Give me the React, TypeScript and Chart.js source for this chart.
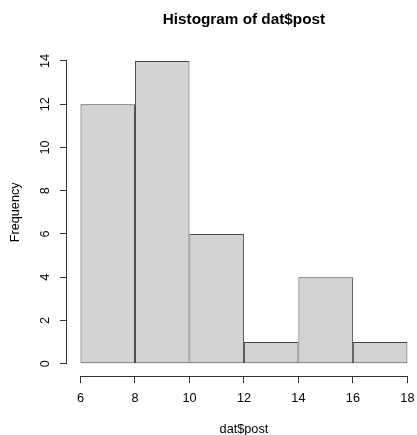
import React, { useEffect, useRef } from "react";
import { Chart, registerables } from "chart.js";

Chart.register(...registerables);

// ---- data ----
const binEdges = [6, 8, 10, 12, 14, 16, 18];
const counts = [12, 14, 6, 1, 4, 1];
const xTicks = [6, 8, 10, 12, 14, 16, 18];
const yTicks = [0, 2, 4, 6, 8, 10, 12, 14];
const titleText = "Histogram of dat$post";
const xLabel = "dat$post";
const yLabel = "Frequency";

// ---- style ----
const FONT = "'Liberation Sans', Arial, Helvetica, sans-serif";
const LINE = "#333333";
const BAR_LINE = "#444444";
const FILL = "#D3D3D3";
const TEXT = "#000000";

const CANVAS_W = 422;
const CANVAS_H = 445;

// R-style 4% range extension
const xSpan = xTicks[xTicks.length - 1] - xTicks[0];
const ySpan = yTicks[yTicks.length - 1] - yTicks[0];
const xMin = xTicks[0] - 0.04 * xSpan;
const xMax = xTicks[xTicks.length - 1] + 0.04 * xSpan;
const yMin = yTicks[0] - 0.04 * ySpan;
const yMax = yTicks[yTicks.length - 1] + 0.04 * ySpan;

const rAxes = {
  id: "rAxes",
  afterDraw(chart: any) {
    const { ctx, scales } = chart;
    const x = scales.x;
    const y = scales.y;
    ctx.save();
    ctx.strokeStyle = LINE;
    ctx.lineWidth = 1;
    ctx.beginPath();
    const yb = Math.round(x.top) + 0.5;
    ctx.moveTo(x.getPixelForValue(xTicks[0]), yb);
    ctx.lineTo(x.getPixelForValue(xTicks[xTicks.length - 1]), yb);
    const xl = Math.round(y.right) - 0.5;
    ctx.moveTo(xl, y.getPixelForValue(yTicks[0]));
    ctx.lineTo(xl, y.getPixelForValue(yTicks[yTicks.length - 1]));
    ctx.stroke();
    ctx.restore();
  },
};

export default function App() {
  const ref = useRef<HTMLCanvasElement | null>(null);

  useEffect(() => {
    if (!ref.current) return;
    const points = counts.map((c, i) => ({
      x: (binEdges[i] + binEdges[i + 1]) / 2,
      y: c,
    }));
    const chart = new Chart(ref.current, {
      type: "bar",
      data: {
        datasets: [
          {
            data: points as any,
            backgroundColor: FILL,
            borderColor: BAR_LINE,
            borderWidth: 1,
            borderSkipped: false,
            barPercentage: 1,
            categoryPercentage: 1,
            inflateAmount: 0,
          } as any,
        ],
      },
      options: {
        animation: false,
        responsive: false,
        maintainAspectRatio: false,
        events: [],
        layout: { padding: { left: 0, right: 0.2, top: 0, bottom: 0 } },
        plugins: {
          legend: { display: false },
          tooltip: { enabled: false },
          title: {
            display: true,
            text: titleText,
            fullSize: false,
            color: TEXT,
            font: { family: FONT, size: 15.3, weight: "bold", lineHeight: 1.2 },
            padding: { top: 10.8, bottom: 19.7 },
          },
        },
        scales: {
          x: {
            type: "linear",
            min: xMin,
            max: xMax,
            offset: false,
            bounds: "data",
            afterBuildTicks: (s: any) => {
              s.ticks = xTicks.map((v) => ({ value: v }));
            },
            afterFit: (s: any) => {
              s.height = CANVAS_H - 375.8;
            },
            border: { display: false },
            grid: {
              offset: false,
              drawOnChartArea: false,
              drawTicks: true,
              tickLength: 7.4,
              color: LINE,
              lineWidth: 1,
            },
            ticks: {
              autoSkip: false,
              maxRotation: 0,
              minRotation: 0,
              padding: 7.5,
              color: TEXT,
              font: { family: FONT, size: 12.7, lineHeight: 1.2 },
            },
            title: {
              display: true,
              text: xLabel,
              color: TEXT,
              font: { family: FONT, size: 12.7, lineHeight: 1.2 },
              padding: { top: 0, bottom: 8.0 },
            },
          },
          y: {
            type: "linear",
            min: yMin,
            max: yMax,
            bounds: "data",
            afterBuildTicks: (s: any) => {
              s.ticks = yTicks.map((v) => ({ value: v }));
            },
            afterFit: (s: any) => {
              s.width = 67.4;
            },
            border: { display: false },
            grid: {
              drawOnChartArea: false,
              drawTicks: true,
              tickLength: 7.4,
              color: LINE,
              lineWidth: 1,
            },
            ticks: {
              autoSkip: false,
              minRotation: 90,
              maxRotation: 90,
              crossAlign: "center",
              padding: 7.9,
              color: TEXT,
              font: { family: FONT, size: 12.7, lineHeight: 1.2 },
            },
            title: {
              display: true,
              text: yLabel,
              color: TEXT,
              font: { family: FONT, size: 12.7, lineHeight: 1.2 },
              padding: { top: 7.4, bottom: 0 },
            },
          },
        },
      } as any,
      plugins: [rAxes],
    });
    return () => chart.destroy();
  }, []);

  return (
    <div
      style={{
        position: "fixed",
        left: 0,
        top: 0,
        width: 417,
        height: 435,
        overflow: "hidden",
        background: "#ffffff",
      }}
    >
      <canvas
        ref={ref}
        width={CANVAS_W}
        height={CANVAS_H}
        style={{ width: CANVAS_W, height: CANVAS_H, display: "block" }}
      />
    </div>
  );
}
